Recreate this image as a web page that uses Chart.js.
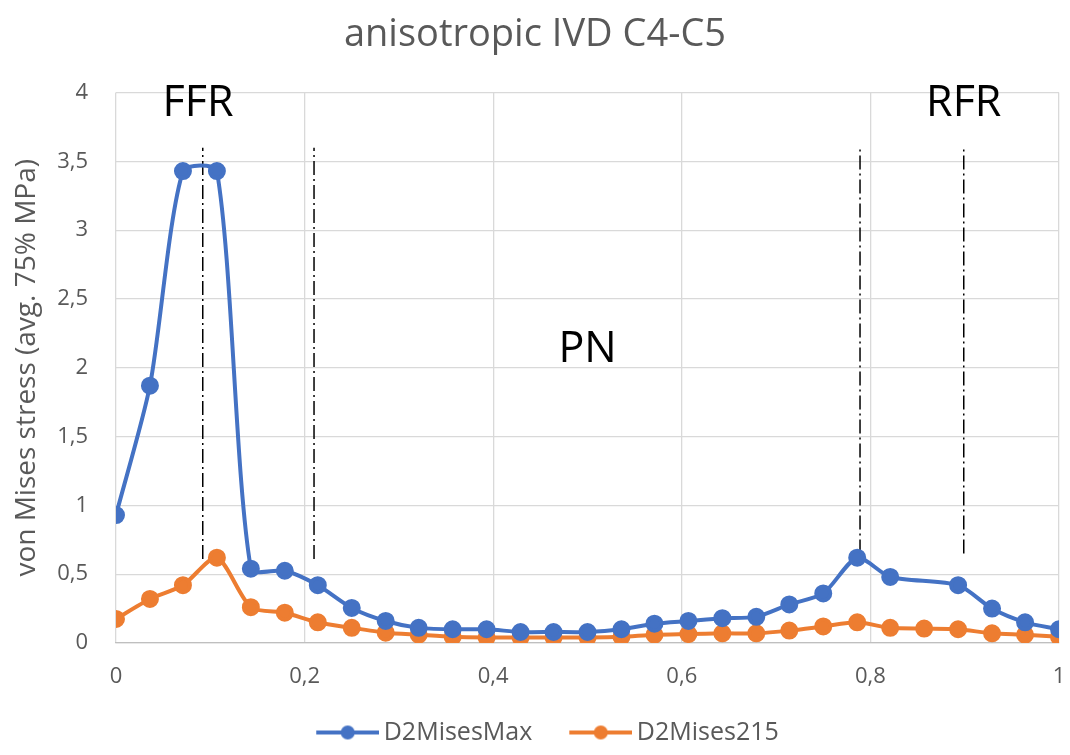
<!DOCTYPE html>
<html>
<head>
<meta charset="utf-8">
<script src="https://cdn.jsdelivr.net/npm/chart.js@4/dist/chart.umd.min.js"></script>
<style>
    html, body { margin: 0; padding: 0; background: #ffffff; }
    #wrap { width: 1070px; height: 755px; }
</style>
</head>
<body>
<div id="wrap"><canvas id="graficoIVD" width="1070" height="755"></canvas></div>
<script>
// posiciones normalizadas a lo largo del disco
const posiciones = [0, 0.036, 0.071, 0.107, 0.143, 0.179, 0.214, 0.25, 0.286, 0.321,
    0.357, 0.393, 0.429, 0.464, 0.5, 0.536, 0.571, 0.607, 0.643, 0.679,
    0.714, 0.75, 0.786, 0.821, 0.857, 0.893, 0.929, 0.964, 1];

const misesMax = [0.93, 1.87, 3.43, 3.43, 0.54, 0.525, 0.42, 0.255, 0.16, 0.11,
    0.10, 0.10, 0.08, 0.08, 0.08, 0.10, 0.14, 0.16, 0.18, 0.19,
    0.28, 0.36, 0.62, 0.48, null, 0.42, 0.25, 0.15, 0.10];

const mises215 = [0.175, 0.32, 0.42, 0.62, 0.26, 0.22, 0.15, 0.11, 0.075, 0.06,
    0.045, 0.04, 0.04, 0.04, 0.04, 0.045, 0.06, 0.065, 0.07, 0.07,
    0.09, 0.12, 0.15, 0.11, 0.105, 0.10, 0.07, 0.06, 0.045];

// limites de zonas (lineas punteadas)
const limitesX = [0.092, 0.21, 0.789, 0.899];
const limitesBase = [0.61, 0.61, 0.65, 0.65];
const limiteTope = 3.6;

// etiquetas de zona
const zonas = ['FFR', 'PN', 'RFR'];
const zonasX = [0.087, 0.5, 0.899];
const zonasY = [3.92, 2.13, 3.92];

const ticksX = [0, 0.2, 0.4, 0.6, 0.8, 1];
const ticksY = [0, 0.5, 1, 1.5, 2, 2.5, 3, 3.5, 4];

const gris = '#595959';
const fuente = "'Open Sans', 'Noto Sans', sans-serif";

const formatoComa = v => String(Math.round(v * 10) / 10).replace('.', ',');

// icono de leyenda: linea con punto, con margen transparente a la izquierda
function iconoLeyenda(color) {
    const c = document.createElement('canvas');
    c.width = 96;
    c.height = 16;
    const g = c.getContext('2d');
    g.strokeStyle = color;
    g.lineWidth = 4;
    g.beginPath();
    g.moveTo(33, 8);
    g.lineTo(96, 8);
    g.stroke();
    g.fillStyle = color;
    g.beginPath();
    g.arc(64.5, 8, 7, 0, Math.PI * 2);
    g.fill();
    return c;
}

const pluginZonas = {
    id: 'zonas',
    afterDatasetsDraw(chart) {
        const { ctx, scales } = chart;
        ctx.save();
        ctx.fillStyle = '#000000';
        ctx.font = '43px ' + fuente;
        ctx.textAlign = 'center';
        ctx.textBaseline = 'middle';
        zonas.forEach((z, i) => {
            ctx.fillText(z, scales.x.getPixelForValue(zonasX[i]), scales.y.getPixelForValue(zonasY[i]));
        });
        ctx.restore();
    }
};

const datasetsLimites = limitesX.map((x, i) => ({
    label: 'limite' + i,
    data: [{ x: x, y: limitesBase[i] }, { x: x, y: limiteTope }],
    borderColor: '#000000',
    borderWidth: 1.5,
    borderDash: [14, 4, 2, 4],
    pointRadius: 0,
    showLine: true,
    tension: 0
}));

const ctx = document.getElementById('graficoIVD').getContext('2d');
new Chart(ctx, {
    type: 'scatter',
    data: {
        datasets: [{
            label: 'D2MisesMax',
            data: posiciones.map((x, i) => ({ x: x, y: misesMax[i] })),
            borderColor: '#4472C4',
            backgroundColor: '#4472C4',
            borderWidth: 4,
            pointRadius: 7,
            showLine: true,
            spanGaps: true,
            tension: 0.25,
            legendIcon: iconoLeyenda('#4472C4')
        }, {
            label: 'D2Mises215',
            data: posiciones.map((x, i) => ({ x: x, y: mises215[i] })),
            borderColor: '#ED7D31',
            backgroundColor: '#ED7D31',
            borderWidth: 4,
            pointRadius: 7,
            showLine: true,
            tension: 0.25,
            legendIcon: iconoLeyenda('#ED7D31')
        }, ...datasetsLimites]
    },
    options: {
        responsive: false,
        animation: false,
        layout: { padding: { left: 0, right: 0, top: 0, bottom: 0 } },
        scales: {
            x: {
                type: 'linear',
                min: 0,
                max: 1,
                afterBuildTicks: axis => { axis.ticks = ticksX.map(v => ({ value: v })); },
                ticks: {
                    color: gris,
                    font: { family: fuente, size: 22 },
                    padding: 21,
                    callback: formatoComa
                },
                grid: { color: '#D9D9D9', lineWidth: 1.3, drawTicks: false },
                border: { color: '#BFBFBF', width: 1.3 },
                afterFit: axis => {
                    axis.height = 65;
                    axis.paddingRight = 7;
                    axis.paddingLeft = 0;
                }
            },
            y: {
                min: 0,
                max: 4,
                afterBuildTicks: axis => { axis.ticks = ticksY.map(v => ({ value: v })); },
                ticks: {
                    color: gris,
                    font: { family: fuente, size: 22 },
                    padding: 28,
                    callback: formatoComa
                },
                grid: { color: '#D9D9D9', lineWidth: 1.3, drawTicks: false },
                border: { display: false },
                title: {
                    display: true,
                    text: 'von Mises stress (avg. 75% MPa)',
                    color: gris,
                    font: { family: fuente, size: 28 },
                    padding: { top: 10, bottom: 0 }
                },
                afterFit: axis => { axis.width = 116; }
            }
        },
        plugins: {
            title: {
                display: true,
                text: 'anisotropic IVD C4-C5',
                color: gris,
                font: { family: fuente, size: 38, weight: 'normal' },
                padding: { top: 12, bottom: 35 }
            },
            legend: {
                position: 'bottom',
                labels: {
                    color: gris,
                    font: { family: fuente, size: 25 },
                    usePointStyle: true,
                    pointStyleWidth: 80,
                    padding: 12,
                    filter: item => !item.text.startsWith('limite'),
                    generateLabels: chart => chart.data.datasets.map((d, i) => ({
                        text: d.label,
                        fontColor: gris,
                        pointStyle: d.legendIcon || 'circle',
                        fillStyle: d.borderColor,
                        strokeStyle: d.borderColor,
                        lineWidth: 0,
                        hidden: false,
                        datasetIndex: i
                    }))
                }
            },
            tooltip: { enabled: false }
        }
    },
    plugins: [pluginZonas]
});
</script>
</body>
</html>
